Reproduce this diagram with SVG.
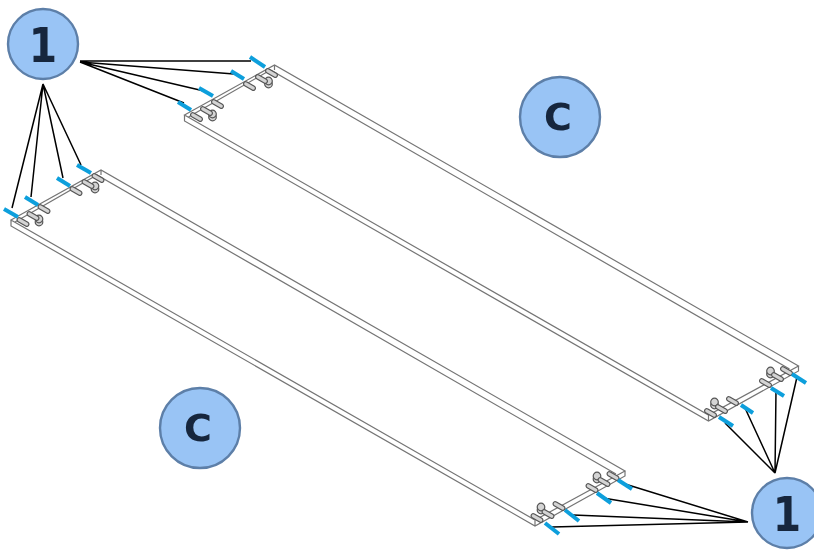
<svg xmlns="http://www.w3.org/2000/svg" width="814" height="550" viewBox="0 0 814 550">
<style>
.edge{fill:none;stroke:#757575;stroke-width:1.2}
.pill{fill:#d4d4d4;stroke:#555;stroke-width:1.2}
.pin{stroke:#0f9fdc;stroke-width:4;fill:none}
.conn{stroke:#000;stroke-width:1.5;fill:none}
.bub{fill:#99c4f5;stroke:#5d7fa8;stroke-width:2.4}
.lab{font-family:"DejaVu Sans",sans-serif;font-weight:700;fill:#16263c;text-anchor:middle}
</style>
<defs>
<filter id="soft" x="-5%" y="-5%" width="110%" height="110%"><feGaussianBlur stdDeviation="0.5"/></filter>
<g id="pillA"><rect x="-6.5" y="-2.2" width="13" height="4.4" rx="2.2" class="pill" transform="rotate(30)"/></g>
<g id="bolt"><circle cx="0" cy="3" r="3.8" class="pill"/><circle cx="0" cy="0" r="3.8" class="pill"/></g>
<g id="beam">
<path class="edge" d="M11 220L101 170L625 471L535 520L11 220ZM11 220V226L535 526L625 476V471M535 520V526M15 222L97 175L616 474M101 170V175"/>
<use href="#bolt" x="39" y="219"/>
<use href="#bolt" x="95" y="186"/>
<use href="#pillA" x="23" y="222"/>
<use href="#pillA" x="33" y="216"/>
<use href="#pillA" x="44" y="209"/>
<use href="#pillA" x="76" y="191"/>
<use href="#pillA" x="88" y="184"/>
<use href="#pillA" x="98" y="178"/>
<use href="#bolt" x="541" y="507"/>
<use href="#bolt" x="597" y="476"/>
<use href="#pillA" x="537" y="518"/>
<use href="#pillA" x="548" y="514"/>
<use href="#pillA" x="559" y="506"/>
<use href="#pillA" x="592" y="488"/>
<use href="#pillA" x="604" y="482"/>
<use href="#pillA" x="613" y="476"/>
</g>
</defs>
<g filter="url(#soft)">
<g id="beam-lower"><use href="#beam"/></g>
<g id="beam-upper"><use href="#beam" x="173.5" y="-105"/></g>
<g id="connectors">
<path class="conn" d="M43 84L12 208M43 84L31 197M43 84L63 178M43 84L81 165"/>
<path class="conn" d="M80 61L251 61M80 62L234 74M80 62L204 91M80 62L184 103"/>
<path class="conn" d="M775 473L725 423M775 473L745 408M775 473L776 390M775 473L797 377"/>
<path class="conn" d="M748 522L552 527M748 522L573 515M748 522L603 498M748 522L625 484"/>
</g>
<g id="pins">
<path class="pin" d="M4 209L18 217M25 197L38 205M57 178L70 186M77 165L91 173"/>
<path class="pin" d="M178 102L191 110M199 88L213 96M231 71L244 79M250 57L265 67"/>
<path class="pin" d="M719 417L733 426M741 405L753 413M771 388L784 396M792 374L806 383"/>
<path class="pin" d="M545 523L559 534M565 510L579 521M597 493L611 503M618 480L632 489"/>
</g>
<g id="n1a"><circle class="bub" cx="43" cy="44" r="35"/><text class="lab" transform="translate(43 62) scale(.85 1)" font-size="48">1</text></g>
<g id="n1b"><circle class="bub" cx="787" cy="513" r="35"/><text class="lab" transform="translate(787 531) scale(.85 1)" font-size="48">1</text></g>
<g id="nCa"><circle class="bub" cx="560" cy="117" r="40"/><text class="lab" x="558" y="130" font-size="38">C</text></g>
<g id="nCb"><circle class="bub" cx="200" cy="428" r="40"/><text class="lab" x="198" y="441" font-size="38">C</text></g>
</g>
</svg>
